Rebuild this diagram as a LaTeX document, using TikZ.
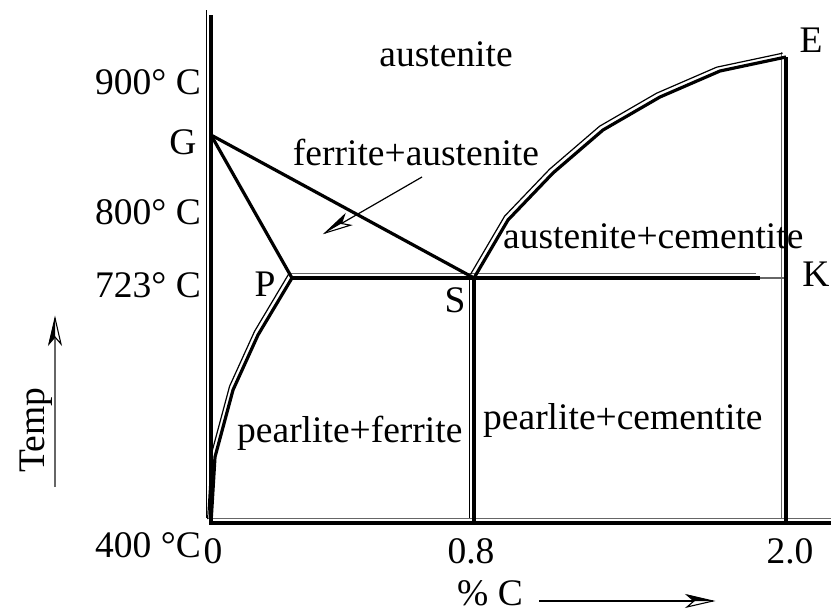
\documentclass[tikz,border=0pt]{standalone}
\usepackage{fontspec}
\setmainfont{Liberation Serif}
\usetikzlibrary{arrows.meta}
\begin{document}
\begin{tikzpicture}[x=1pt,y=-1pt,
  thickl/.style={line width=3.2pt, line join=miter},
  thinl/.style={line width=1.2pt},
  shA/.style={shift={(-4.2,-4.6)}},
  shB/.style={shift={(-3.4,-3.8)}},
  lbl/.style={font=\fontsize{37.5}{42}\selectfont, inner sep=0pt},
  harr/.pic={
    \draw[line width=1.1pt, fill=white, line join=miter] (0,0) -- (-26,-6) -- (-19,0) -- (-26,6) -- cycle;
    \fill (0,0) -- (-26,-6.5) -- (-19,0) -- cycle;
  },
  ]
\useasboundingbox (0,0) rectangle (831,613);
% key points
\coordinate (top) at (211,15);
\coordinate (G) at (211,135);
\coordinate (P) at (292,278);
\coordinate (S) at (474,278);
\coordinate (Kend) at (760,278);
\coordinate (K2) at (786,278);
\coordinate (E) at (786,57);
\coordinate (O) at (211,523);
\coordinate (B8) at (474,523);
\coordinate (B2) at (786,523);
\coordinate (Bend) at (845,523);
% curve points
\coordinate (c1) at (508,220);
\coordinate (c2) at (553,173);
\coordinate (c3) at (603,130);
\coordinate (c4) at (660,97);
\coordinate (c5) at (720,71);
\coordinate (d1) at (258,335);
\coordinate (d2) at (233,390);
\coordinate (d3) at (215,457);
% thin shadow lines (straight)
\draw[thinl] ([shA]top) -- ([shA]O);
\draw[thinl, black!60] ([shA]O) -- ([shA]Bend);
\draw[thinl] ([shA]S) -- ([shA]B8);
\draw[thinl, black!60] ([shA]E) -- ([shA]B2);
\draw[thinl, black!60] ([shA]P) -- ([shA]Kend);
% thin shadow lines (curves)
\draw[thinl] ([shB]S) -- ([shB]c1) -- ([shB]c2) -- ([shB]c3) -- ([shB]c4) -- ([shB]c5) -- ([shB]E);
\draw[thinl] ([shB]P) -- ([shB]d1) -- ([shB]d2) -- ([shB]d3) -- ([shB]O);
% thick lines
\draw[thickl] (top) -- (O) -- (Bend);
\draw[thickl] (G) -- (S);
\draw[thickl] (G) -- (P);
\draw[thickl] (P) -- (Kend);
\draw[thinl, black!60] (Kend) -- (K2);
\draw[thickl] (S) -- (B8);
\draw[thickl] (E) -- (B2);
\draw[thickl] (S) -- (c1) -- (c2) -- (c3) -- (c4) -- (c5) -- (E);
\draw[thickl] (P) -- (d1) -- (d2) -- (d3) -- (O);
% labels
\node[lbl] (laus) at (446,54) {austenite};
\node[lbl, anchor=east] (l900) at (201,82) {900° C};
\node[lbl] (lG) at (183,142) {G};
\node[lbl] (lfa) at (416,152) {ferrite+austenite};
\node[lbl, anchor=east] (l800) at (201,212) {800° C};
\node[lbl, anchor=west] (lac) at (503,236) {austenite+cementite};
\node[lbl, anchor=east] (l723) at (201,285) {723° C};
\node[lbl] (lP) at (265,284) {P};
\node[lbl] (lS) at (455,300) {S};
\node[lbl] (lK) at (816,274) {K};
\node[lbl] (lE) at (811,40) {E};
\node[lbl, anchor=west] (lpf) at (237,433) {pearlite+ferrite};
\node[lbl, anchor=west] (lpc) at (483,420) {pearlite+cementite};
\node[lbl, anchor=east] (l400) at (201,545) {400 °C};
\node[lbl] (x0) at (213,551) {0};
\node[lbl] (x8) at (471,551) {0.8};
\node[lbl] (x2) at (790,551) {2.0};
\node[lbl] (lpc2) at (490,593) {\% C};
\node[lbl, rotate=90] (ltemp) at (36,430) {Temp};
% arrows
\coordinate (ta) at (55,487);
\coordinate (tb) at (55,318);
\coordinate (ca) at (539,601);
\coordinate (cb) at (713,601);
\coordinate (fa) at (422,177);
\coordinate (fb) at (325,233);
\draw[thinl, black!60] (ta) -- (tb);
\pic[rotate=90] at (tb) {harr};
\draw[thinl] (ca) -- (cb);
\pic at (cb) {harr};
\draw[thinl] (fa) -- (fb);
\pic[rotate=210, yscale=-1] at (fb) {harr};
\end{tikzpicture}
\end{document}
